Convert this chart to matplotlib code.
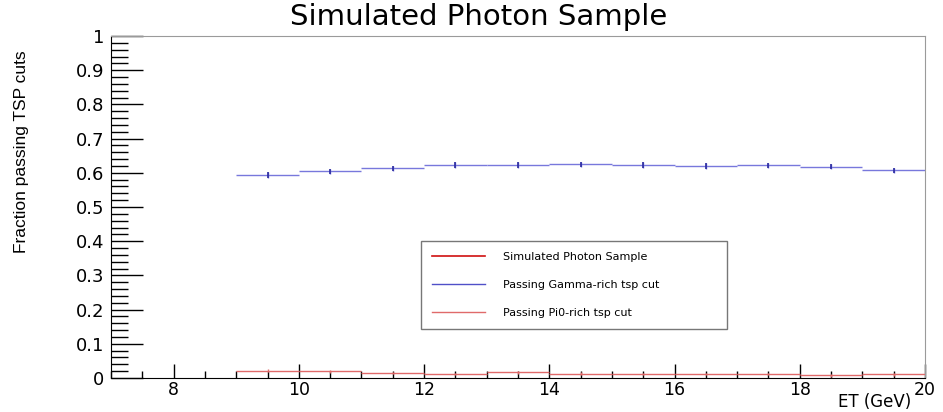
import matplotlib
matplotlib.use("Agg")
import matplotlib.pyplot as plt
import numpy as np
from matplotlib.ticker import MultipleLocator
from matplotlib.lines import Line2D

plt.rcParams['font.family'] = ['DejaVu Sans']

bin_edges = [9, 10, 11, 12, 13, 14, 15, 16, 17, 18, 19, 20]
gamma_frac = [0.594, 0.604, 0.613, 0.623, 0.623, 0.625, 0.623, 0.620, 0.622, 0.618, 0.607]
gamma_err = [0.009, 0.008, 0.008, 0.008, 0.008, 0.008, 0.008, 0.008, 0.008, 0.008, 0.008]
pi0_frac = [0.021, 0.020, 0.015, 0.012, 0.017, 0.013, 0.012, 0.012, 0.012, 0.008, 0.011]
pi0_err = [0.004, 0.004, 0.004, 0.004, 0.004, 0.004, 0.004, 0.004, 0.004, 0.004, 0.004]
legend_labels = ["Simulated Photon Sample", "Passing Gamma-rich tsp cut", "Passing Pi0-rich tsp cut"]

fig = plt.figure(figsize=(9.43, 4.12), dpi=100)
ax = fig.add_axes([111/943, 1 - 378/412, (925 - 111)/943, (378 - 36)/412])

edges = np.array(bin_edges, dtype=float)
centers = 0.5 * (edges[:-1] + edges[1:])
half = 0.5 * np.diff(edges)

blue = '#7878dc'
blue_dark = '#2a2aa0'
red = '#e06a6a'

ax.errorbar(centers, gamma_frac, xerr=half, yerr=gamma_err, fmt='none',
            ecolor=blue, elinewidth=1.0, capsize=0)
ax.errorbar(centers, gamma_frac, yerr=gamma_err, fmt='none',
            ecolor=blue_dark, elinewidth=1.2, capsize=0)
ax.errorbar(centers, pi0_frac, xerr=half, yerr=pi0_err, fmt='none',
            ecolor=red, elinewidth=1.0, capsize=0)

ax.set_xlim(7, 20)
ax.set_ylim(0, 1)
ax.xaxis.set_major_locator(MultipleLocator(2))
ax.xaxis.set_minor_locator(MultipleLocator(0.5))
ax.yaxis.set_major_locator(MultipleLocator(0.1))
ax.yaxis.set_minor_locator(MultipleLocator(0.02))
ax.yaxis.set_major_formatter(matplotlib.ticker.FuncFormatter(lambda v, p: ('%g' % round(v, 2))))

ax.tick_params(axis='both', which='both', direction='in', top=False, right=False, colors='black')
ax.tick_params(axis='x', which='major', length=10, width=1, labelsize=12.5, pad=2)
ax.tick_params(axis='x', which='minor', length=5, width=1)
ax.tick_params(axis='y', which='major', length=23, width=1, labelsize=13, pad=5)
ax.tick_params(axis='y', which='minor', length=12, width=1)

for s in ['top', 'right']:
    ax.spines[s].set_color('#9a9a9a')
for s in ['left', 'bottom']:
    ax.spines[s].set_color('black')

fig.text(0.508, 1 - 17/412, "Simulated Photon Sample", ha='center', va='center', fontsize=21)
fig.text(911/943, 1 - 411/412, "ET (GeV)", ha='right', va='bottom', fontsize=12)
fig.text(22/943, 1 - 152/412, "Fraction passing TSP cuts", ha='center', va='center',
         rotation=90, fontsize=12.5, family='Liberation Sans')

handles = [Line2D([], [], color='#d01010', lw=1.2),
           Line2D([], [], color='#5050c8', lw=1.0),
           Line2D([], [], color=red, lw=1.0)]
leg = ax.legend(handles, legend_labels, loc='lower left',
                bbox_to_anchor=((421 - 111)/814, (378 - 329)/342, (727 - 421)/814, (329 - 232)/342),
                mode='expand', fontsize=8, frameon=True, fancybox=False,
                edgecolor='#555555', labelspacing=1.6, handlelength=4.8, handletextpad=1.6,
                borderpad=1.0, borderaxespad=0)
leg.get_frame().set_linewidth(1.0)

fig.savefig("out.png", dpi=100)
